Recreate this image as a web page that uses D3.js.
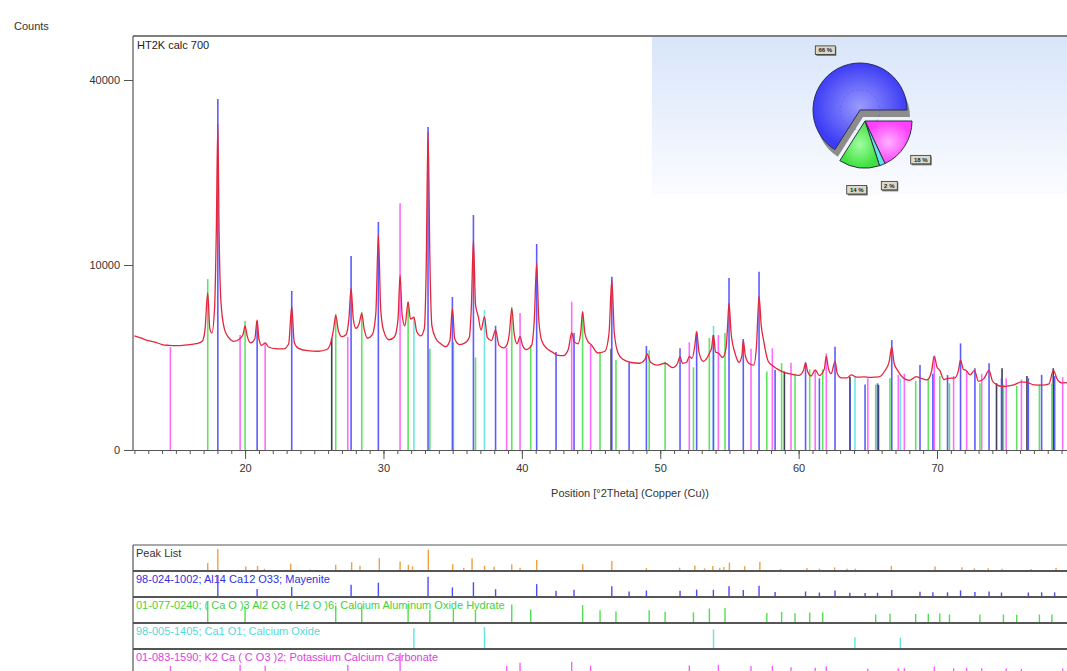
<!DOCTYPE html>
<html>
<head>
<meta charset="utf-8">
<script src="https://cdn.jsdelivr.net/npm/d3@7"></script>
<style>
body { margin: 0; background: #fff; }
text { font-family: "Liberation Sans", Arial, sans-serif; font-size: 11px; }
</style>
</head>
<body>
<svg id="chart" width="1067" height="671"></svg>
<script>
var profTheta = [12.0,12.5,13.0,13.5,14.0,14.5,15.0,15.5,16.0,16.5,16.9,17.1,17.3,17.45,17.6,17.8,17.92,18.03,18.12,18.25,18.5,18.8,19.2,19.6,19.85,20.0,20.15,20.4,20.7,20.87,21.0,21.2,21.45,21.7,22.2,22.8,23.15,23.37,23.55,23.8,24.5,25.3,25.9,26.2,26.4,26.55,26.75,27.0,27.3,27.5,27.66,27.82,28.0,28.25,28.43,28.6,28.85,29.2,29.45,29.63,29.8,30.0,30.4,30.8,31.05,31.2,31.35,31.55,31.78,31.95,32.2,32.4,32.7,32.95,33.08,33.22,33.36,33.5,33.8,34.1,34.5,34.8,34.98,35.15,35.5,35.9,36.2,36.35,36.5,36.65,36.85,37.05,37.3,37.5,37.8,38.1,38.35,38.7,38.95,39.1,39.27,39.45,39.65,39.87,40.05,40.3,40.7,40.9,41.07,41.22,41.45,41.8,42.2,42.5,43.0,43.35,43.6,43.8,44.05,44.25,44.39,44.55,44.8,45.0,45.5,46.0,46.3,46.5,46.68,46.95,47.3,47.8,48.5,48.9,49.05,49.3,49.8,50.35,50.9,51.25,51.43,51.6,51.9,52.1,52.3,52.5,52.63,52.8,53.1,53.4,53.55,53.7,53.84,54.0,54.2,54.5,54.75,54.85,54.97,55.12,55.4,55.7,55.9,56.0,56.15,56.4,56.75,56.95,57.14,57.3,57.45,57.8,58.17,58.5,59.0,59.5,60.0,60.35,60.5,60.65,60.9,61.2,61.5,61.85,62.0,62.15,62.35,62.63,62.8,63.1,63.5,63.8,64.2,64.7,65.2,65.8,66.2,66.55,66.73,66.9,67.15,67.6,68.0,68.5,68.77,69.3,69.6,69.8,70.0,70.2,70.5,70.8,71.3,71.55,71.7,71.9,72.1,72.4,72.7,73.0,73.4,73.76,74.0,74.3,74.7,75.2,75.6,76.1,76.5,77.0,77.6,78.1,78.4,78.7,79.0,79.4];
var profCounts = [3800,3650,3500,3400,3250,3200,3180,3200,3250,3300,3450,4200,7200,4300,4000,6000,14000,31000,14000,6500,4300,3700,3450,3600,3900,4500,3800,3350,3600,4950,3600,3200,3350,3100,3000,2990,3300,6000,3400,3050,2880,2850,2950,3400,4300,5300,4100,3750,3900,5000,7650,5000,4330,4700,5450,4300,3650,3900,5500,13500,5800,4200,3550,3750,5000,8950,5300,4500,6400,5000,5150,4100,3800,4300,9000,29500,10000,4500,3600,3330,3120,3500,5850,3600,3250,3350,3700,6000,12900,6200,5200,4200,5200,3700,3500,4200,3200,3050,3300,4000,5850,3900,3300,3750,3200,2950,3200,5000,10200,5000,3450,3020,2800,2650,2600,2950,4000,3400,3300,4000,5600,4000,3400,3250,2750,2850,4000,8450,4000,2750,2400,2250,2200,2400,2700,2250,2100,2200,1980,2200,2550,2200,2250,2550,2450,3200,4100,2800,2300,2500,2750,3000,3850,2800,2750,2500,3000,4200,6300,4000,2750,2250,2600,3500,2600,2200,2100,3100,6900,4500,3600,2300,2050,1900,1750,1680,1630,1850,2200,1800,1600,1870,1620,1900,2580,1950,1700,2300,1700,1520,1520,1650,1550,1560,1540,1560,1800,2300,3100,2200,1850,1500,1420,1570,1520,1440,1800,2580,2000,1850,1450,1500,1520,1850,2370,1900,1850,1650,1850,1380,1500,1850,1400,1250,1180,1200,1250,1360,1340,1240,1230,1280,1850,1450,1320,1330];

// reference patterns: stick positions and heights in counts
var mayTheta  = [18.03,20.87,23.37,27.66,29.63,33.22,34.98,36.5,38.1,41.07,42.47,43.77,46.5,47.75,49.0,51.43,52.63,53.84,54.97,56.0,57.14,58.3,60.5,61.5,62.63,63.7,64.8,65.7,66.73,68.77,69.7,70.76,71.7,72.74,73.76,74.66,76.6,77.56,78.5];
var mayCounts = [36000,4860,7390,11000,15200,30500,6840,16130,4510,12400,2800,4000,8770,2210,3160,3020,4090,3860,8640,3600,9290,1870,2250,1500,3120,1300,1250,1300,3530,2110,1700,1640,3320,1950,2200,1500,1500,1650,1600];

var cahTheta  = [17.3,20.0,26.55,28.43,31.78,33.35,35.05,36.65,39.27,40.64,44.39,45.65,46.8,49.2,50.35,52.4,53.55,54.68,57.7,58.77,59.74,60.8,61.74,65.57,66.6,68.46,69.37,70.2,70.9,73.1,74.8,75.76,77.4,78.3];
var cahCounts = [8540,4860,5400,5560,6400,3000,3400,2500,5970,3220,5590,2820,2370,2900,2280,2000,3660,4000,1800,2210,1700,1900,1900,1250,1500,1400,1500,1600,1300,1300,1250,1200,1250,1300];

var caoTheta  = [32.2,37.3,53.85,64.07,67.35];
var caoCounts = [5090,5730,4500,1600,1500];

var kccTheta  = [14.6,19.64,21.45,27.42,31.2,38.9,39.87,43.6,44.97,52.1,54.2,56.56,58.1,59.45,61.2,62.0,65.0,67.2,67.64,69.8,71.2,72.14,73.23,75.0,76.1,79.08];
var kccCounts = [3100,3860,3345,3730,17800,3040,5480,6420,3220,3390,3860,3000,3020,2230,1870,2730,1500,1640,1700,2580,1600,1800,1700,1500,1450,1550];

var darkTheta  = [26.26,46.45,58.97,63.71,65.77,74.3,74.7,76.5,78.4];
var darkCounts = [3660,3000,1800,1570,1240,1300,1950,1600,1950];

// peak list (net counts)
var pkTheta  = [17.3,18.03,20.05,20.9,21.4,23.3,24.7,26.55,27.7,28.3,29.7,31.2,31.8,32.1,33.24,35.0,35.8,36.4,37.3,37.99,39.27,39.87,41.07,44.4,46.5,49.0,51.4,52.5,53.2,53.8,54.3,54.6,55.0,56.1,57.2,58.7,60.6,61.5,62.6,63.5,64.1,66.7,69.86,71.8,72.7,73.7,74.7,76.8,78.6];
var pkCounts = [3700,27500,1100,1500,300,3000,150,2300,4300,1500,9500,5200,2200,1300,26000,2600,500,9300,1600,1000,2600,600,7000,2500,5800,500,600,1700,400,1400,600,900,4000,1300,4700,200,500,300,700,300,300,1500,1100,800,400,400,300,200,500];

// phase fractions for the inset pie
var pieValues = [18, 2, 14, 66];
var pieLabels = ["18 %", "2 %", "14 %", "66 %"];

var panelLabels = ["Peak List",
  "98-024-1002; Al14 Ca12 O33; Mayenite",
  "01-077-0240; ( Ca O )3 Al2 O3 ( H2 O )6; Calcium Aluminum Oxide Hydrate",
  "98-005-1405; Ca1 O1; Calcium Oxide",
  "01-083-1590; K2 Ca ( C O3 )2; Potassium Calcium Carbonate"];

var svg = d3.select("#chart");

var plotLeft = 133, plotTop = 36, baseY = 450;
var x = d3.scaleLinear().domain([11.9, 80]).range([plotLeft, 1075.4]);
var y = d3.scaleSqrt().domain([0, 40000]).range([baseY, 80]);

var blue = "#4c4cff", green = "#4fe04f", cyan = "#5fe3e3", magenta = "#ff5cff", dark = "#2a2a40", orange = "#f0a040";

var phases = [
  {t: darkTheta, c: darkCounts, col: dark},
  {t: caoTheta, c: caoCounts, col: cyan},
  {t: kccTheta, c: kccCounts, col: magenta},
  {t: cahTheta, c: cahCounts, col: green},
  {t: mayTheta, c: mayCounts, col: blue}
];

// gradients, clip
var defs = svg.append("defs");
var lg = defs.append("linearGradient").attr("id", "inset").attr("x1", 0).attr("y1", 0).attr("x2", 0).attr("y2", 1);
lg.append("stop").attr("offset", "0%").attr("stop-color", "#d8e5fa");
lg.append("stop").attr("offset", "100%").attr("stop-color", "#fbfcff");
var rg = defs.append("radialGradient").attr("id", "blueGrad");
rg.append("stop").attr("offset", "0%").attr("stop-color", "#9a9aff");
rg.append("stop").attr("offset", "100%").attr("stop-color", "#3c3cf5");
var rgM = defs.append("radialGradient").attr("id", "magGrad");
rgM.append("stop").attr("offset", "0%").attr("stop-color", "#ffb0ff");
rgM.append("stop").attr("offset", "100%").attr("stop-color", "#ff40ff");
var rgG = defs.append("radialGradient").attr("id", "grnGrad");
rgG.append("stop").attr("offset", "0%").attr("stop-color", "#a0ffa0");
rgG.append("stop").attr("offset", "100%").attr("stop-color", "#40e040");
defs.append("clipPath").attr("id", "plotClip").append("rect")
  .attr("x", plotLeft).attr("y", plotTop).attr("width", 1067 - plotLeft).attr("height", baseY - plotTop);

svg.append("rect").attr("x", 652).attr("y", plotTop + 1).attr("width", 1067 - 652).attr("height", 158)
  .attr("fill", "url(#inset)");

// sticks
var plot = svg.append("g").attr("clip-path", "url(#plotClip)");
phases.forEach(function(p) {
  plot.append("g").selectAll("line")
    .data(p.t)
    .enter().append("line")
      .attr("x1", function(d) { return x(d); })
      .attr("x2", function(d) { return x(d); })
      .attr("y1", y(0))
      .attr("y2", function(d, i) { return y(p.c[i]); })
      .attr("stroke", p.col)
      .attr("stroke-width", 1.6)
      .attr("opacity", 0.9);
});

// profile
var profile = profTheta.map(function(d, i) { return [d, profCounts[i]]; });
plot.append("path")
  .datum(profile)
  .attr("fill", "none")
  .attr("stroke", "#e4263c")
  .attr("stroke-width", 1.3)
  .attr("d", d3.line().x(function(d) { return x(d[0]); }).y(function(d) { return y(d[1]); }).curve(d3.curveMonotoneX));

// frame
svg.append("line").attr("x1", plotLeft).attr("x2", 1067).attr("y1", plotTop).attr("y2", plotTop).attr("stroke", "#555").attr("stroke-width", 1.5);
svg.append("line").attr("x1", plotLeft).attr("x2", plotLeft).attr("y1", plotTop).attr("y2", baseY).attr("stroke", "#555").attr("stroke-width", 1.2);

// axes
var minor = svg.append("g").attr("transform", "translate(0," + baseY + ")")
  .call(d3.axisBottom(x).tickValues(d3.range(12, 80)).tickSize(4).tickSizeOuter(0).tickFormat(""));
var major = svg.append("g").attr("transform", "translate(0," + baseY + ")")
  .call(d3.axisBottom(x).tickValues(d3.range(20, 80, 10)).tickSize(9).tickSizeOuter(0).tickPadding(5));
var yAx = svg.append("g").attr("transform", "translate(" + plotLeft + ",0)")
  .call(d3.axisLeft(y).tickValues([0, 10000, 40000]).tickSize(9).tickPadding(4).tickFormat(d3.format("d")));
yAx.select(".domain").remove();
[minor, major, yAx].forEach(function(g) {
  g.selectAll("line, path").attr("stroke", "#555");
  g.selectAll("text").attr("fill", "#333").style("font-size", "11px").style("font-family", "Liberation Sans, Arial, sans-serif");
});

svg.append("text").attr("x", 14).attr("y", 30).attr("fill", "#333").text("Counts");
svg.append("text").attr("x", 137).attr("y", 49).attr("fill", "#222").text("HT2K calc 700");
svg.append("text").attr("x", 630).attr("y", 497).attr("text-anchor", "middle").attr("fill", "#333")
  .text("Position [°2Theta] (Copper (Cu))");

// pie inset
var cx = 860, cy = 110, R = 47;
var pie = d3.pie().sort(null).value(function(d) { return d; })
  .startAngle(Math.PI / 2).endAngle(Math.PI / 2 + 2 * Math.PI);
var arcs = pie(pieValues);
var arc = d3.arc().innerRadius(0).outerRadius(R);
var pieFill = ["url(#magGrad)", cyan, "url(#grnGrad)", "url(#blueGrad)"];
var gBlue = svg.append("g").attr("transform", "translate(" + cx + "," + cy + ")");
gBlue.append("path").attr("d", arc(arcs[3])).attr("fill", "#8c8c8c").attr("transform", "translate(3,7)");
gBlue.append("path").attr("d", arc(arcs[3])).attr("fill", pieFill[3]).attr("stroke", "#2a2a60").attr("stroke-width", 1);
gBlue.append("circle").attr("r", 20).attr("fill", "none").attr("stroke", "#5a5ad0").attr("stroke-dasharray", "2,3").attr("opacity", 0.6);

var gEx = svg.append("g").attr("transform", "translate(" + (cx + 5) + "," + (cy + 11) + ")");
gEx.selectAll("path").data(arcs.slice(0, 3)).enter().append("path")
  .attr("d", arc)
  .attr("fill", function(d, i) { return pieFill[i]; })
  .attr("stroke", "#303040").attr("stroke-width", 1);

arcs.forEach(function(a, i) {
  var ox = i === 3 ? cx : cx + 5, oy = i === 3 ? cy : cy + 11;
  var rr = i === 3 ? 72 : 66;
  var c = d3.arc().innerRadius(rr).outerRadius(rr).centroid(a);
  var g = svg.append("g").attr("transform", "translate(" + (ox + c[0]) + "," + (oy + c[1] + 3) + ")");
  var w = pieLabels[i].length > 3 ? 20 : 16;
  g.append("rect").attr("x", -w / 2 + 1).attr("y", -3).attr("width", w).attr("height", 9).attr("fill", "#777");
  g.append("rect").attr("x", -w / 2).attr("y", -4).attr("width", w).attr("height", 8.5)
    .attr("fill", "#dcd8c8").attr("stroke", "#333").attr("stroke-width", 0.8);
  g.append("text").attr("text-anchor", "middle").attr("y", 2.5)
    .style("font-size", "6px").style("font-weight", "bold").attr("fill", "#222").text(pieLabels[i]);
});

// lower panels
var panelTop = 545, rowH = 26;
var rows = [
  {t: pkTheta, c: pkCounts, col: orange, txt: "#333"},
  {t: mayTheta, c: mayCounts, col: blue, txt: "#3030e0"},
  {t: cahTheta, c: cahCounts, col: green, txt: "#3fd23f"},
  {t: caoTheta, c: caoCounts, col: cyan, txt: "#52dada"},
  {t: kccTheta, c: kccCounts, col: magenta, txt: "#e040e0"}
];
svg.append("line").attr("x1", plotLeft).attr("x2", 1067).attr("y1", panelTop).attr("y2", panelTop).attr("stroke", "#555").attr("stroke-width", 1.2);
svg.append("line").attr("x1", plotLeft).attr("x2", plotLeft).attr("y1", panelTop).attr("y2", 671).attr("stroke", "#555").attr("stroke-width", 1.2);
rows.forEach(function(r, k) {
  var rt = panelTop + k * rowH, rb = rt + rowH;
  var h = d3.scaleSqrt().domain([0, d3.max(r.c)]).range([0, 22]);
  svg.append("text").attr("x", 136).attr("y", rt + 12).attr("fill", r.txt).text(panelLabels[k]);
  svg.append("g").selectAll("line").data(r.t).enter().append("line")
    .attr("x1", function(d) { return x(d); })
    .attr("x2", function(d) { return x(d); })
    .attr("y1", rb)
    .attr("y2", function(d, i) { return rb - h(r.c[i]); })
    .attr("stroke", r.col).attr("stroke-width", 1.4);
  svg.append("line").attr("x1", plotLeft).attr("x2", 1067).attr("y1", rb).attr("y2", rb)
    .attr("stroke", "#555").attr("stroke-width", 1.8);
});
</script>
</body>
</html>
